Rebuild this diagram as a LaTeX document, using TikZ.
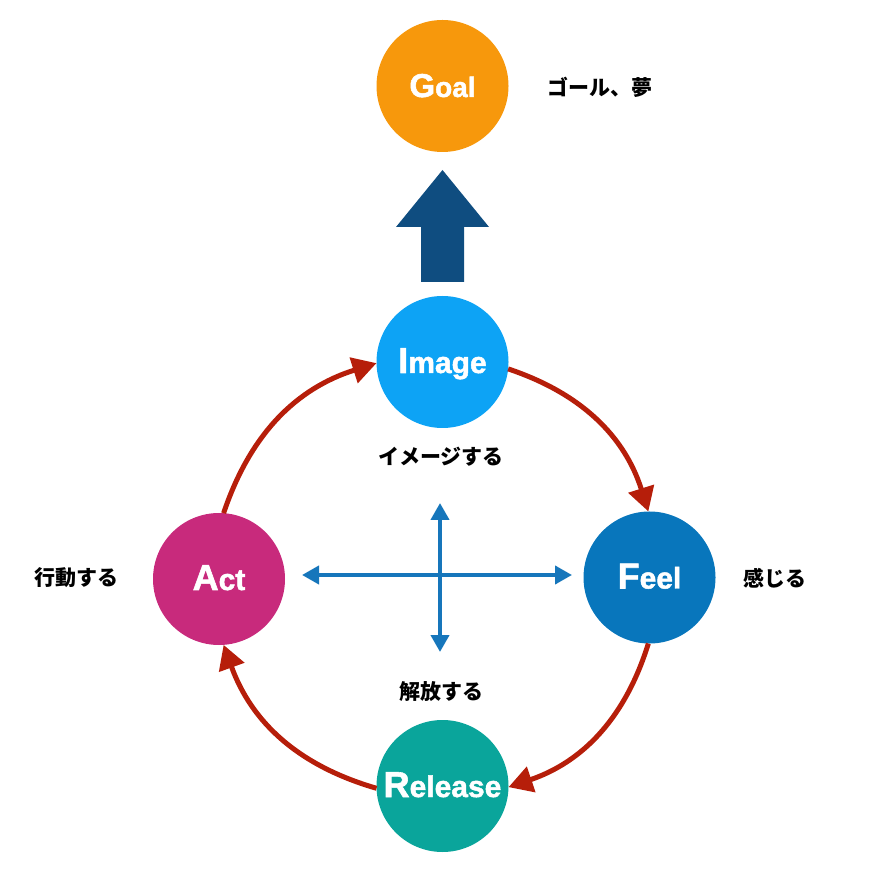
\documentclass[tikz,border=0pt]{standalone}
\usepackage{fontspec}
\setmainfont{Liberation Sans}
\newfontfamily\heavyfont{Liberation Sans}[BoldFeatures={FakeBold=1.6}]
\newfontfamily\jpfont{Noto Sans CJK JP}
\usetikzlibrary{arrows.meta}
\definecolor{goalc}{RGB}{247,152,12}
\definecolor{imagec}{RGB}{13,163,245}
\definecolor{feelc}{RGB}{8,118,188}
\definecolor{actc}{RGB}{200,42,124}
\definecolor{releasec}{RGB}{10,165,155}
\definecolor{blockc}{RGB}{15,77,128}
\definecolor{crossc}{RGB}{22,118,187}
\definecolor{redc}{RGB}{182,30,10}
\newcommand\bubtext[4]{{\fontsize{#1}{#1}\selectfont #3}{\fontsize{#2}{#2}\selectfont #4}}
\begin{document}
\begin{tikzpicture}[x=1pt,y=1pt,
  bubble/.style={circle, inner sep=0pt, outer sep=0pt, minimum size=132pt,
    text=white, font=\heavyfont\bfseries, text height=24pt, text depth=2pt},
  jplabel/.style={font=\jpfont\bfseries\fontsize{21}{21}\selectfont, text=black, inner sep=0pt},
  cyclearrow/.style={draw=redc, line width=5pt, -{Triangle[length=24pt,width=26pt]}},
  crossarrow/.style={draw=crossc, line width=4pt,
    {Triangle[length=17pt,width=18pt]}-{Triangle[length=17pt,width=18pt]}},
]
\useasboundingbox (0,0) rectangle (882,870);

% circles
\node[bubble, fill=goalc]    (goal)    at (442.5,784)  {\bubtext{33}{28}{G}{oal}};
\node[bubble, fill=imagec]   (image)   at (442.5,508)  {\bubtext{36}{30}{I}{mage}};
\node[bubble, fill=feelc]    (feel)    at (649.5,292.5){\bubtext{36}{30}{F}{eel}};
\node[bubble, fill=actc]     (act)     at (219,291)    {\bubtext{36}{30}{A}{ct}};
\node[bubble, fill=releasec] (release) at (442.5,84)   {\bubtext{36}{30}{R}{elease}};

% labels
\node[jplabel] (lgoal)    at (600,783) {ゴール、夢};
\node[jplabel] (limage)   at (441,413) {イメージする};
\node[jplabel] (lfeel)    at (775,292) {感じる};
\node[jplabel] (lrelease) at (441,178) {解放する};
\node[jplabel] (lact)     at (76,292)  {行動する};

% block arrow
\fill[blockc] (421,588) -- (421,643) -- (396,643) -- (442.5,700) -- (489,643)
  -- (464,643) -- (464,588) -- cycle;

% cross arrows
\coordinate (hl) at (302,295);
\coordinate (hr) at (572,295);
\coordinate (vt) at (440,367);
\coordinate (vb) at (440,218);
\draw[crossarrow] (hl) -- (hr);
\draw[crossarrow] (vb) -- (vt);

% cycle arrows
\draw[cyclearrow] (image.-6)    to[bend left=27] (feel.91);
\draw[cyclearrow] (feel.269)    to[bend left=27] (release.-1);
\draw[cyclearrow] (release.182) to[bend left=27] (act.274);
\draw[cyclearrow] (act.86)      to[bend left=27] (image.181);
\end{tikzpicture}
\end{document}
